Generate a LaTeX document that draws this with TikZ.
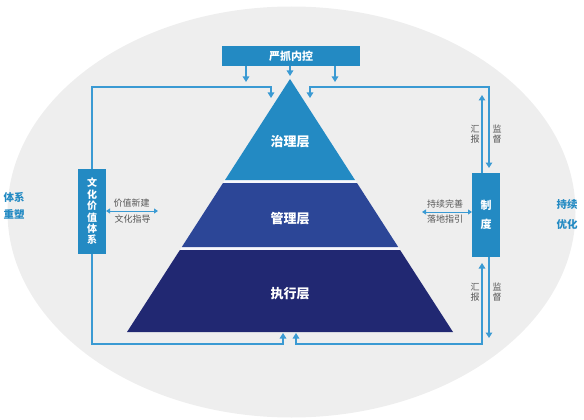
\documentclass[tikz,border=0pt]{standalone}
\usepackage{fontspec}
\setmainfont{Noto Sans CJK SC}
\usetikzlibrary{arrows.meta}
\definecolor{bgc}{HTML}{EEEEEE}
\definecolor{mblue}{HTML}{238AC3}
\definecolor{lblue}{HTML}{3A9AD3}
\definecolor{l1}{HTML}{238AC3}
\definecolor{l2}{HTML}{2C4697}
\definecolor{l3}{HTML}{212872}
\definecolor{gap}{HTML}{F7F7FB}
\definecolor{gtxt}{HTML}{555555}
\tikzset{
  bluebox/.style={draw=none,fill=mblue,text=white,font=\fontsize{10}{11.4}\selectfont\bfseries,inner sep=0pt,align=center},
  layertxt/.style={text=white,font=\fontsize{13}{14}\selectfont\bfseries,inner sep=0pt},
  graytxt/.style={text=gtxt,font=\fontsize{9}{10}\selectfont,inner sep=0pt,align=center},
  outtxt/.style={text=mblue,font=\fontsize{10.5}{12}\selectfont\bfseries,inner sep=0pt},
  conn/.style={draw=lblue,line width=1.3pt},
  tip/.style={-{Triangle[length=5.5pt,width=6.5pt]}},
  tips/.style={{Triangle[length=5.5pt,width=6.5pt]}-{Triangle[length=5.5pt,width=6.5pt]}},
  smalltips/.style={{Triangle[length=4pt,width=5pt]}-{Triangle[length=4pt,width=5pt]}}
}
\begin{document}
\begin{tikzpicture}[x=1pt,y=-1pt]
\useasboundingbox (0,0) rectangle (584,420);
% background ellipse
\fill[bgc] (291.5,212) ellipse [x radius=284, y radius=205.5];
% pyramid underlay (gaps between layers)
\fill[gap] (290,79) -- (453,332) -- (127,332) -- cycle;
% pyramid layers
\fill[l1] (290,79) -- (355,180) -- (225,180) -- cycle;
\fill[l2] (223,183) -- (357,183) -- (398.2,247) -- (181.8,247) -- cycle;
\fill[l3] (179.9,250) -- (400.1,250) -- (453,332) -- (127,332) -- cycle;
\node[layertxt] (gov) at (290,142) {治理层};
\node[layertxt] (mgmt) at (290,219) {管理层};
\node[layertxt] (exec) at (290,294) {执行层};
% boxes
\node[bluebox,minimum width=138pt,minimum height=20pt,font=\fontsize{11}{12}\selectfont\bfseries] (ctrl) at (291,56) {严抓内控};
\node[bluebox,minimum width=28pt,minimum height=85pt] (cult) at (92,211.5) {文\\化\\价\\值\\体\\系};
\node[bluebox,minimum width=28pt,minimum height=84pt,font=\fontsize{11}{19}\selectfont\bfseries] (sys) at (486,215) {制\\度};
% coordinates
\coordinate (t1) at (246,82);
\coordinate (t2) at (290,76);
\coordinate (t3) at (335,82);
\coordinate (lc1) at (92,87);
\coordinate (lc2) at (271,87);
\coordinate (la) at (271,98);
\coordinate (rc1) at (310,87);
\coordinate (ra) at (310,98);
\coordinate (rc2) at (489,87);
\coordinate (rd) at (489,168);
\coordinate (ru) at (482,95);
\coordinate (bd) at (489,338);
\coordinate (bu) at (482,263);
\coordinate (bc1) at (92,344);
\coordinate (bc2) at (283,344);
\coordinate (ba1) at (283,333);
\coordinate (bc3) at (296,344);
\coordinate (ba2) at (296,333);
\coordinate (bc4) at (482,344);
\coordinate (ll) at (106,211);
\coordinate (lr) at (158,211);
\coordinate (rl) at (422,212);
\coordinate (rr) at (472,212);
% top arrows
\draw[conn,tip] (ctrl.south -| t1) -- (t1);
\draw[conn,tip] (ctrl.south -| t2) -- (t2);
\draw[conn,tip] (ctrl.south -| t3) -- (t3);
% left top loop
\draw[conn,tip] (cult.north) -- (lc1) -- (lc2) -- (la);
% right top loop
\draw[conn,tips] (ra) -- (rc1) -- (rc2) -- (rd);
\draw[conn,tip] (sys.north -| ru) -- (ru);
% bottom right
\draw[conn,tip] (sys.south -| bd) -- (bd);
\draw[conn,tips] (ba2) -- (bc3) -- (bc4) -- (bu);
% bottom left loop
\draw[conn,tip] (cult.south) -- (bc1) -- (bc2) -- (ba1);
% side double arrows
\draw[conn,line width=1pt,smalltips] (ll) -- (lr);
\draw[conn,line width=1pt,smalltips] (rl) -- (rr);
% gray labels
\node[graytxt] (lab1) at (131.5,203) {价值新建};
\node[graytxt] (lab2) at (132.5,219) {文化指导};
\node[graytxt] (lab3) at (445,204) {持续完善};
\node[graytxt] (lab4) at (445,219) {落地指引};
\node[graytxt] (hb1) at (475,134) {汇\\报};
\node[graytxt] (jd1) at (497,134) {监\\督};
\node[graytxt] (hb2) at (475,292) {汇\\报};
\node[graytxt] (jd2) at (497,292) {监\\督};
% outer labels
\node[outtxt] (o1) at (14,197) {体系};
\node[outtxt] (o2) at (14,214) {重塑};
\node[outtxt] (o3) at (567,205) {持续};
\node[outtxt] (o4) at (567,224) {优化};
\end{tikzpicture}
\end{document}
